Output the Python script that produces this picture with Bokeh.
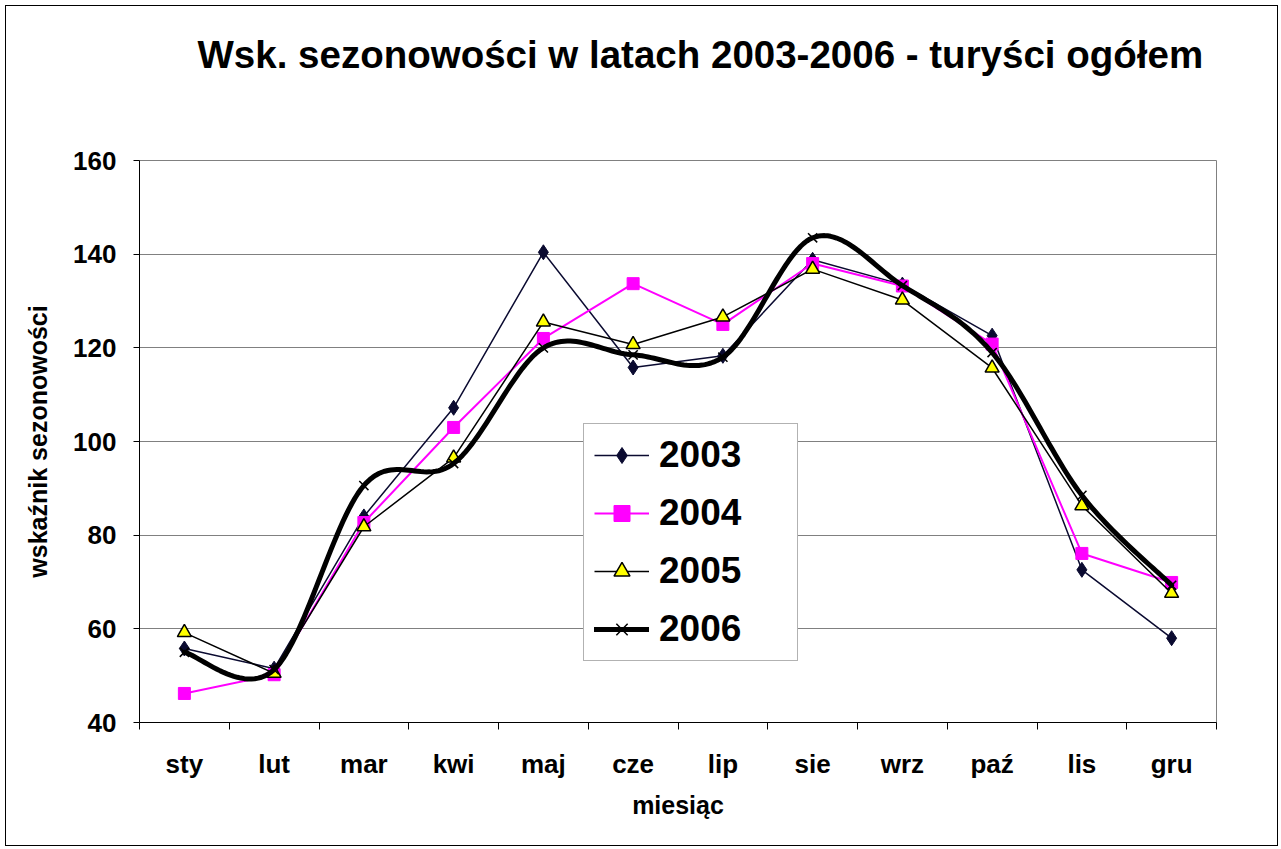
import numpy as np
from bokeh.plotting import figure
from bokeh.models import FixedTicker, Range1d, Legend, LegendItem, Title
from bokeh.embed import file_html
from bokeh.resources import INLINE

months = ["sty", "lut", "mar", "kwi", "maj", "cze", "lip", "sie", "wrz", "paź", "lis", "gru"]
y2003 = [55.8, 51.5, 84.0, 107.2, 140.4, 115.8, 118.3, 138.8, 133.5, 122.6, 72.6, 58.0]
y2004 = [46.2, 50.2, 82.7, 103.0, 122.0, 133.7, 125.0, 138.0, 133.2, 120.8, 76.1, 69.9]
y2005 = [59.2, 50.5, 81.8, 96.5, 125.5, 120.7, 126.6, 136.8, 130.2, 115.7, 86.3, 67.6]
y2006 = [55.0, 51.3, 90.6, 95.3, 120.0, 118.5, 118.0, 143.5, 133.3, 119.0, 88.5, 69.3]
y_ticks = [40, 60, 80, 100, 120, 140, 160]
title_text = "Wsk. sezonowości w latach 2003-2006 - turyści ogółem"

FONT = "Liberation Sans"

xpos = [i + 0.5 for i in range(len(months))]


def smooth(xs, ys, n=30):
    """Catmull-Rom (Excel-like) smoothing through the data points."""
    xs = list(xs); ys = list(ys)
    px = [xs[0]] + xs + [xs[-1]]
    py = [ys[0]] + ys + [ys[-1]]
    ox, oy = [], []
    for i in range(1, len(px) - 2):
        p0x, p1x, p2x, p3x = px[i - 1], px[i], px[i + 1], px[i + 2]
        p0y, p1y, p2y, p3y = py[i - 1], py[i], py[i + 1], py[i + 2]
        c1x = p1x + (p2x - p0x) / 6.0
        c1y = p1y + (p2y - p0y) / 6.0
        c2x = p2x - (p3x - p1x) / 6.0
        c2y = p2y - (p3y - p1y) / 6.0
        for t in np.linspace(0, 1, n, endpoint=(i == len(px) - 3)):
            a = (1 - t) ** 3; b = 3 * (1 - t) ** 2 * t; c = 3 * (1 - t) * t ** 2; d = t ** 3
            ox.append(a * p1x + b * c1x + c * c2x + d * p2x)
            oy.append(a * p1y + b * c1y + c * c2y + d * p2y)
    return ox, oy


p = figure(width=1273, height=841, output_backend="svg", toolbar_location=None,
           x_range=Range1d(0, 12), y_range=Range1d(40, 160),
           min_border_left=133, min_border_right=63, min_border_top=154, min_border_bottom=125)

p.title = Title(text=title_text, text_font=FONT, text_font_size="38.5px", text_font_style="bold",
                align="left", offset=58, standoff=10, text_color="black")
# empty spacer title between the real title and the plot frame
p.add_layout(Title(text=" ", text_font_size="1px", standoff=77), "above")

p.outline_line_color = "#808080"
p.outline_line_width = 1
p.background_fill_color = "white"
p.border_fill_color = "white"
p.styles = {"border": "1px solid black", "margin-left": "5px", "margin-top": "5px"}

p.xgrid.visible = False
p.ygrid.ticker = FixedTicker(ticks=y_ticks)
p.ygrid.grid_line_color = "#808080"
p.ygrid.grid_line_width = 1

# y axis
p.yaxis.ticker = FixedTicker(ticks=y_ticks)
p.yaxis.axis_line_color = "black"
p.yaxis.major_tick_out = 6
p.yaxis.major_tick_in = 0
p.yaxis.minor_tick_line_color = None
p.yaxis.major_label_text_font = FONT
p.yaxis.major_label_text_font_size = "26px"
p.yaxis.major_label_text_font_style = "bold"
p.yaxis.major_label_text_color = "black"
p.yaxis.major_label_standoff = 17
p.yaxis.axis_label = "wskaźnik sezonowości"
p.yaxis.axis_label_text_font = FONT
p.yaxis.axis_label_text_font_size = "25px"
p.yaxis.axis_label_text_font_style = "bold"
p.yaxis.axis_label_text_color = "black"
p.yaxis.axis_label_standoff = 18

# x axis
p.xaxis.ticker = FixedTicker(ticks=xpos, minor_ticks=list(range(len(months) + 1)))
p.xaxis.major_label_overrides = {x: m for x, m in zip(xpos, months)}
p.xaxis.axis_line_color = "black"
p.xaxis.major_tick_out = 0
p.xaxis.major_tick_in = 0
p.xaxis.minor_tick_out = 7
p.xaxis.minor_tick_in = 0
p.xaxis.minor_tick_line_color = "black"
p.xaxis.major_label_text_font = FONT
p.xaxis.major_label_text_font_size = "26px"
p.xaxis.major_label_text_font_style = "bold"
p.xaxis.major_label_text_color = "black"
p.xaxis.major_label_standoff = 19
p.xaxis.axis_label = "miesiąc"
p.xaxis.axis_label_text_font = FONT
p.xaxis.axis_label_text_font_size = "25px"
p.xaxis.axis_label_text_font_style = "bold"
p.xaxis.axis_label_text_color = "black"
p.xaxis.axis_label_standoff = 9

navy = "#0a0a30"
l03 = p.line(xpos, y2003, line_color=navy, line_width=1.5)
s03 = p.scatter(xpos, y2003, marker="diamond", size=15, fill_color=navy, line_color=navy)

l04 = p.line(xpos, y2004, line_color="#FF00FF", line_width=2)
s04 = p.scatter(xpos, y2004, marker="square", size=12, fill_color="#FF00FF", line_color="#FF00FF")

l05 = p.line(xpos, y2005, line_color="black", line_width=1.5)
s05 = p.scatter(xpos, y2005, marker="triangle", size=14, fill_color="#FFFF00", line_color="black", line_width=1.5)

sx, sy = smooth(xpos, y2006)
l06 = p.line(sx, sy, line_color="black", line_width=5, line_cap="round", line_join="round")
s06 = p.scatter(xpos, y2006, marker="x", size=13, line_color="black", line_width=1.5)

legend = Legend(items=[
    LegendItem(label="2003", renderers=[l03, s03]),
    LegendItem(label="2004", renderers=[l04, s04]),
    LegendItem(label="2005", renderers=[l05, s05]),
    LegendItem(label="2006", renderers=[l06, s06]),
], location=(444, 61))
legend.label_text_font = FONT
legend.label_text_font_size = "37px"
legend.label_text_font_style = "bold"
legend.label_text_color = "black"
legend.glyph_width = 55
legend.glyph_height = 40
legend.label_height = 40
legend.label_width = 128
legend.label_standoff = 10
legend.spacing = 16
legend.padding = 10
legend.margin = 0
legend.border_line_color = "#666666"
legend.border_line_width = 1
legend.background_fill_color = "white"
legend.background_fill_alpha = 1.0
p.add_layout(legend, "center")

open("out.html", "w").write(file_html(p, INLINE))
